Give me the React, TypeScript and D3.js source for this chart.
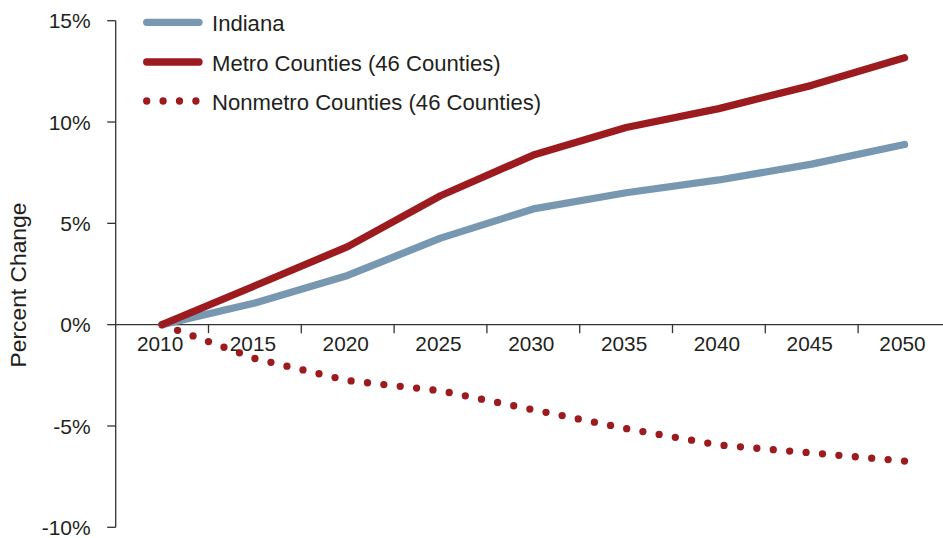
import React from "react";
import * as d3 from "d3";

const years = ["2010", "2015", "2020", "2025", "2030", "2035", "2040", "2045", "2050"];
const indiana = [0, 1.07, 2.43, 4.27, 5.71, 6.51, 7.14, 7.92, 8.89];
const metro = [0, 1.92, 3.85, 6.36, 8.37, 9.73, 10.66, 11.81, 13.17];
const nonmetro = [0, -1.67, -2.76, -3.26, -4.2, -5.13, -5.94, -6.33, -6.73];
const yTicks = [-10, -5, 0, 5, 10, 15];
const yTickLabels = ["-10%", "-5%", "0%", "5%", "10%", "15%"];
const seriesNames = ["Indiana", "Metro Counties (46 Counties)", "Nonmetro Counties (46 Counties)"];

const W = 943;
const H = 538;
const BLUE = "#7897b1";
const RED = "#9b1b1f";
const AXIS = "#333333";
const TEXT = "#231f20";
const FONT = "'Liberation Sans', Arial, Helvetica, sans-serif";

export default function App() {
  const x = d3.scaleBand<string>().domain(years).range([115.7, 115.7 + 9 * 92.8]).padding(0);
  const y = d3.scaleLinear().domain([-10, 15]).range([527.3, 20.7]);
  const cx = (i: number) => (x(years[i]) as number) + x.bandwidth() / 2;
  const line = d3
    .line<number>()
    .x((_, i) => cx(i))
    .y((d) => y(d));

  const bounds = years.slice(1).map((yr) => x(yr) as number);
  const x0 = x.range()[0];

  // dotted line spacing so that a dot lands on the final point
  let len = 0;
  for (let i = 1; i < nonmetro.length; i++) {
    len += Math.hypot(cx(i) - cx(i - 1), y(nonmetro[i]) - y(nonmetro[i - 1]));
  }
  const gap = len / 46;

  const legendY = [22.3, 62, 101];
  const legendStyles = [
    { stroke: BLUE, dash: undefined },
    { stroke: RED, dash: undefined },
    { stroke: RED, dash: "0 16.4" },
  ];

  return (
    <svg
      width={W}
      height={H}
      style={{ position: "absolute", left: 0, top: 0, background: "#fff" }}
      fontFamily={FONT}
    >
      {/* axes */}
      <line x1={x0} x2={x0} y1={y(15)} y2={y(-10)} stroke={AXIS} strokeWidth={1.3} />
      <line x1={x0} x2={W} y1={y(0)} y2={y(0)} stroke={AXIS} strokeWidth={1.3} />
      {yTicks.map((t, i) => (
        <g key={t}>
          <line x1={x0 - 8.5} x2={x0} y1={y(t)} y2={y(t)} stroke={AXIS} strokeWidth={1.3} />
          <text
            x={90.7}
            y={y(t)}
            dy="0.36em"
            textAnchor="end"
            fontSize={21}
            fill={TEXT}
          >
            {yTickLabels[i]}
          </text>
        </g>
      ))}
      {bounds.map((b) => (
        <line key={b} x1={b} x2={b} y1={y(0)} y2={y(0) + 8.5} stroke={AXIS} strokeWidth={1.3} />
      ))}
      {years.map((yr, i) => (
        <text
          key={yr}
          x={cx(i) - 2}
          y={350.5}
          textAnchor="middle"
          fontSize={20.8}
          fill={TEXT}
        >
          {yr}
        </text>
      ))}
      <text
        transform={`translate(26, 285) rotate(-90)`}
        textAnchor="middle"
        fontSize={22.8}
        fill={TEXT}
      >
        Percent Change
      </text>

      {/* series */}
      <path
        d={line(nonmetro) || ""}
        fill="none"
        stroke={RED}
        strokeWidth={7.3}
        strokeLinecap="round"
        strokeDasharray={`0 ${gap}`}
      />
      <path
        d={line(indiana) || ""}
        fill="none"
        stroke={BLUE}
        strokeWidth={7.3}
        strokeLinecap="round"
        strokeLinejoin="round"
      />
      <path
        d={line(metro) || ""}
        fill="none"
        stroke={RED}
        strokeWidth={7.3}
        strokeLinecap="round"
        strokeLinejoin="round"
      />

      {/* legend */}
      {seriesNames.map((name, i) => (
        <g key={name}>
          <line
            x1={146.7}
            x2={i === 2 ? 196.5 : 199}
            y1={legendY[i]}
            y2={legendY[i]}
            stroke={legendStyles[i].stroke}
            strokeWidth={7.3}
            strokeLinecap="round"
            strokeDasharray={legendStyles[i].dash}
          />
          <text x={212} y={legendY[i] + 8.7} fontSize={22.1} fill={TEXT}>
            {name}
          </text>
        </g>
      ))}
    </svg>
  );
}
